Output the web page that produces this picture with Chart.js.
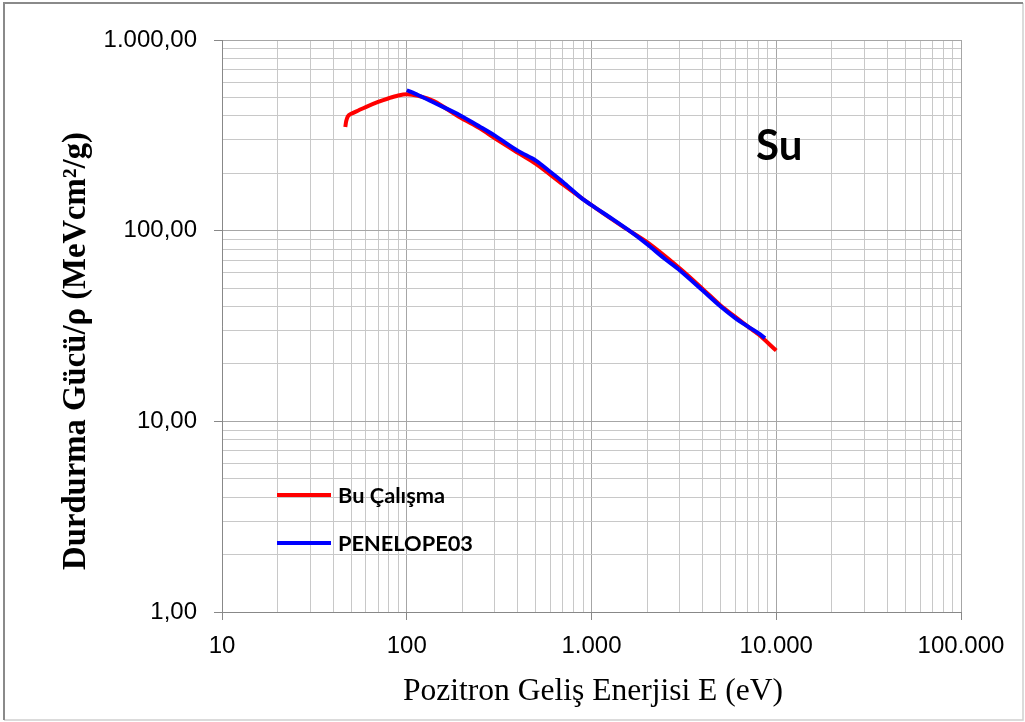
<!DOCTYPE html>
<html>
<head>
<meta charset="utf-8">
<script src="https://cdn.jsdelivr.net/npm/chart.js@4/dist/chart.umd.min.js"></script>
<style>
  html, body { margin: 0; padding: 0; background: #fff; }
  canvas { display: block; }
</style>
</head>
<body>
<canvas id="chartCanvas" width="1025" height="722"></canvas>
<script>
// Eksen değerleri ve etiketleri
const xMajor = [10, 100, 1000, 10000, 100000];
const xTickLabels = ["10", "100", "1.000", "10.000", "100.000"];
const yMajor = [1, 10, 100, 1000];
const yTickLabels = ["1,00", "10,00", "100,00", "1.000,00"];

// Seriler
const redLabel = "Bu Çalışma";
const redE = [46.5, 47, 48, 50, 55, 60, 70, 80, 90, 100, 115, 140, 195, 250, 300, 400, 500, 700, 1000, 1500, 2000, 3000, 4000, 5000, 6000, 7000, 8000, 10000];
const redS = [350, 375, 398, 410, 428, 445, 473, 495, 512, 520, 510, 478, 392, 343, 305, 256, 224, 175, 136, 104, 87, 63.5, 49.5, 40.5, 35.3, 31.5, 28.6, 23.5];

const blueLabel = "PENELOPE03";
const blueE = [100, 115, 140, 195, 250, 300, 400, 500, 600, 700, 870, 1000, 1300, 1700, 2000, 2500, 3000, 4000, 5000, 6000, 7000, 8000, 8700];
const blueS = [545, 515, 470, 402, 350, 315, 262, 233, 203, 180, 150, 136, 115, 96, 85, 71, 62, 48.5, 40, 34.8, 31.5, 29, 27.3];

const panelLabel = "Su";
const xTitle = "Pozitron Geliş Enerjisi E (eV)";
const yTitle = "Durdurma Gücü/ρ (MeVcm²/g)";

// Her on katlık aralık için 1..9 çizgileri
function decadeTicks(major) {
    const out = [];
    for (let i = 0; i < major.length - 1; i++) {
        for (let k = 1; k <= 9; k++) out.push(major[i] * k);
    }
    out.push(major[major.length - 1]);
    return out;
}

function isMajor(v, major) {
    return major.some(m => Math.abs(v - m) / m < 1e-6);
}

function toPoints(xs, ys) {
    return xs.map((x, i) => ({ x: x, y: ys[i] }));
}

// Yazıyı hedef genişliğe sığdıran font boyutu
function fitFont(ctx, text, width, weight, family) {
    ctx.font = `${weight} 100px ${family}`;
    const w = ctx.measureText(text).width;
    return 100 * width / w;
}

const decorPlugin = {
    id: "decor",
    beforeDraw(chart) {
        const ctx = chart.ctx;
        ctx.save();
        ctx.fillStyle = "#ffffff";
        ctx.fillRect(0, 0, chart.width, chart.height);
        ctx.restore();
    },
    afterDraw(chart) {
        const ctx = chart.ctx;
        const serif = "'Liberation Serif', 'Times New Roman', serif";
        const sans = "Lato, 'Liberation Sans', sans-serif";
        ctx.save();

        // Çerçeve
        ctx.strokeStyle = "#d0d0d0";
        ctx.lineWidth = 1.5;
        ctx.beginPath();
        ctx.moveTo(4, 720); ctx.lineTo(1023, 720); ctx.lineTo(1023, 3);
        ctx.stroke();
        ctx.strokeStyle = "#8a8a8a";
        ctx.lineWidth = 2;
        ctx.beginPath();
        ctx.moveTo(4, 720); ctx.lineTo(4, 3); ctx.lineTo(1023, 3);
        ctx.stroke();

        // X ekseni başlığı
        ctx.fillStyle = "#000";
        ctx.textAlign = "center";
        ctx.textBaseline = "middle";
        let fs = fitFont(ctx, xTitle, 380, "normal", serif);
        ctx.font = `normal ${fs}px ${serif}`;
        ctx.fillText(xTitle, 593, 692);

        // Y ekseni başlığı
        fs = fitFont(ctx, yTitle, 438, "bold", serif);
        ctx.font = `bold ${fs}px ${serif}`;
        ctx.save();
        ctx.translate(77, 351);
        ctx.rotate(-Math.PI / 2);
        ctx.fillText(yTitle, 0, 0);
        ctx.restore();

        // Panel etiketi
        ctx.font = `bold 42px ${sans}`;
        ctx.textAlign = "left";
        ctx.fillText(panelLabel, 756, 146);

        // Lejant
        const items = chart.data.datasets.slice().sort((a, b) => a.legendIndex - b.legendIndex);
        const lfs = fitFont(ctx, blueLabel, 135, "bold", sans);
        ctx.font = `bold ${lfs}px ${sans}`;
        items.forEach((ds, i) => {
            const y = 495 + i * 48;
            ctx.strokeStyle = ds.borderColor;
            ctx.lineWidth = 4;
            ctx.beginPath();
            ctx.moveTo(277, y);
            ctx.lineTo(331, y);
            ctx.stroke();
            ctx.fillStyle = "#000";
            ctx.fillText(ds.label, 338, y + 1);
        });
        ctx.restore();
    }
};

const axisFont = { family: "'Liberation Sans', Arial, sans-serif", size: 24 };

new Chart(document.getElementById("chartCanvas"), {
    type: "line",
    data: {
        datasets: [
            {
                label: blueLabel,
                data: toPoints(blueE, blueS),
                borderColor: "#0000ff",
                borderWidth: 4,
                pointRadius: 0,
                tension: 0.3,
                fill: false,
                order: 0,
                legendIndex: 1
            },
            {
                label: redLabel,
                data: toPoints(redE, redS),
                borderColor: "#ff0000",
                borderWidth: 4,
                pointRadius: 0,
                tension: 0.3,
                fill: false,
                order: 1,
                legendIndex: 0
            }
        ]
    },
    options: {
        responsive: false,
        animation: false,
        devicePixelRatio: 1,
        layout: { padding: { top: 40, right: 64, left: 0, bottom: 0 } },
        plugins: {
            legend: { display: false },
            tooltip: { enabled: false }
        },
        scales: {
            x: {
                type: "logarithmic",
                min: 10,
                max: 100000,
                afterFit: s => { s.height = 110; },
                afterBuildTicks: s => { s.ticks = decadeTicks(xMajor).map(v => ({ value: v })); },
                grid: {
                    color: c => isMajor(c.tick.value, xMajor) ? "#a6a6a6" : "#c8c8c8",
                    tickColor: c => isMajor(c.tick.value, xMajor) ? "#888888" : "rgba(0,0,0,0)",
                    tickLength: 8,
                    lineWidth: 1
                },
                border: { display: true, color: "#888888", width: 1 },
                ticks: {
                    autoSkip: false,
                    maxRotation: 0,
                    padding: 12,
                    color: "#000",
                    font: axisFont,
                    callback: v => {
                        const i = xMajor.findIndex(m => Math.abs(v - m) / m < 1e-6);
                        return i >= 0 ? xTickLabels[i] : "";
                    }
                }
            },
            y: {
                type: "logarithmic",
                min: 1,
                max: 1000,
                afterFit: s => { s.width = 222; },
                afterBuildTicks: s => { s.ticks = decadeTicks(yMajor).map(v => ({ value: v })); },
                grid: {
                    color: c => isMajor(c.tick.value, yMajor) ? "#a6a6a6" : "#c8c8c8",
                    tickColor: c => isMajor(c.tick.value, yMajor) ? "#888888" : "rgba(0,0,0,0)",
                    tickLength: 8,
                    lineWidth: 1
                },
                border: { display: true, color: "#888888", width: 1 },
                ticks: {
                    autoSkip: false,
                    padding: 17,
                    color: "#000",
                    font: axisFont,
                    callback: v => {
                        const i = yMajor.findIndex(m => Math.abs(v - m) / m < 1e-6);
                        return i >= 0 ? yTickLabels[i] : "";
                    }
                }
            }
        }
    },
    plugins: [decorPlugin]
});
</script>
</body>
</html>
